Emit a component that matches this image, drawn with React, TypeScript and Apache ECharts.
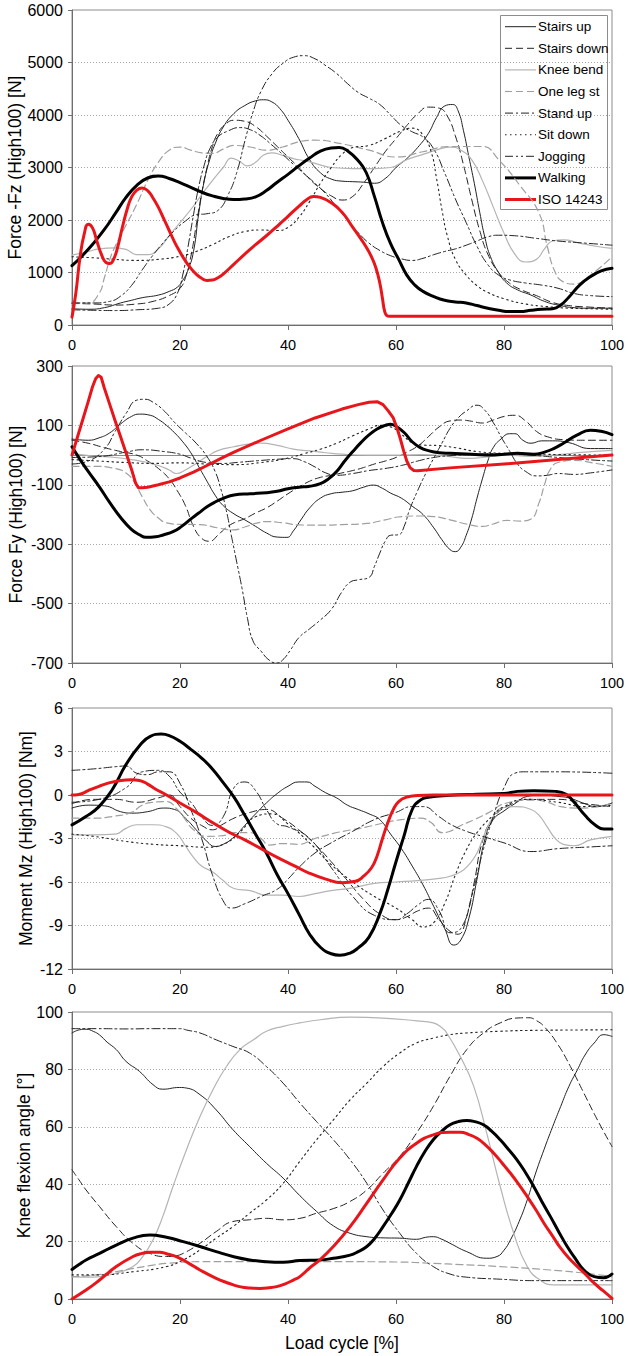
import React, { useEffect, useRef } from "react";
import * as echarts from "echarts";

// ---------- categories / labels ----------
const seriesNames = ["Stairs up", "Stairs down", "Knee bend", "One leg st", "Stand up", "Sit down", "Jogging", "Walking", "ISO 14243"];
const yTitles = ["Force -Fz (High100) [N]", "Force Fy (High100) [N]", "Moment Mz (High100) [Nm]", "Knee flexion angle [°]"];
const xTitle = "Load cycle [%]";
const yMins = [0, -700, -12, 0];
const yMaxs = [6000, 300, 6, 100];
const yIntervals = [1000, 200, 3, 20];

// ---------- Panel 1: Force -Fz ----------
const fzStairsUp = [[0,310],[3,300],[6,330],[9,420],[11,470],[13,520],[16,570],[18,640],[19.5,720],[20.5,850],[21.5,1050],[22.5,1400],[23.5,2150],[24.5,2750],[25.5,3150],[26.5,3450],[28,3770],[30,4030],[32,4180],[34,4270],[35.5,4290],[37,4250],[38.5,4120],[40,3900],[42,3550],[44,3150],[46,2900],[48,2780],[50,2740],[52,2730],[54,2720],[56,2700],[58,2790],[60,3000],[62,3170],[64,3380],[66,3650],[67.5,3950],[69,4170],[70.5,4200],[71.5,4080],[72.5,3700],[73.5,3200],[74.5,2700],[75.5,2150],[76.5,1650],[77.5,1300],[79,1000],[80.5,800],[82.5,670],[85,570],[87.5,450],[90,380],[93,330],[96,320],[100,320]];
const fzStairsDown = [[0,410],[4,400],[8,380],[12,400],[15,450],[18,560],[20,700],[21,900],[22,1300],[23,1900],[24,2500],[25,3000],[26,3400],[27,3650],[28.5,3830],[30,3900],[32,3880],[34,3780],[36,3600],[38,3400],[40,3200],[42,3000],[44,2780],[46,2600],[48,2460],[50,2380],[52,2450],[54,2700],[56,3000],[58,3300],[60,3550],[62,3800],[64,4020],[66,4150],[68,4130],[69.5,3980],[71,3600],[72.5,3050],[74,2400],[75.5,1800],[77,1350],[79,1000],[81,800],[83,680],[86,560],[89,430],[92,370],[96,340],[100,320]];
const fzKneeBend = [[0,1330],[3,1400],[5,1450],[8,1470],[10,1440],[12,1340],[14,1340],[16,1450],[18,1700],[20,1950],[22,2200],[24,2480],[26,2750],[28,3000],[29.5,3180],[31,3120],[32.5,3030],[34,3100],[35.5,3240],[37,3280],[39,3230],[41,3170],[43,3130],[45,3080],[48,3000],[52,2980],[56,2980],[59,3000],[62,3150],[65,3250],[68,3350],[70,3390],[72,3330],[74,3150],[76,2750],[78,2250],[80,1750],[82,1350],[84,1200],[86,1250],[87.5,1450],[89,1600],[91,1620],[94,1560],[97,1500],[100,1460]];
const fzOneLeg = [[0,420],[3,420],[5,600],[6,900],[7,1250],[8,1500],[10,1900],[12,2300],[14,2750],[16,3100],[18,3330],[20,3390],[22,3330],[24,3280],[26,3270],[28,3350],[30,3420],[33,3390],[36,3330],[39,3390],[42,3490],[45,3520],[50,3450],[55,3330],[60,3200],[65,3300],[70,3400],[76,3400],[79,3150],[83,2650],[86.5,2130],[88,1500],[89.5,1000],[91,820],[93,780],[96,950],[100,1300]];
const fzStandUp = [[0,290],[4,280],[8,275],[12,290],[16,320],[18,400],[19.5,600],[20.5,950],[21.5,1500],[22.5,2100],[23.5,2650],[24.5,3050],[25.5,3350],[27,3580],[29,3700],[31,3760],[33,3720],[35,3600],[37,3430],[39,3250],[41,3060],[43,2880],[45,2700],[47,2500],[49,2250],[51,2000],[53,1760],[55,1560],[57,1420],[59,1320],[61,1260],[63,1230],[65,1270],[67,1340],[69,1400],[71,1450],[73,1520],[75,1600],[77,1680],[79,1710],[82,1700],[86,1650],[90,1600],[95,1560],[100,1520]];
const fzSitDown = [[0,1300],[4,1280],[8,1250],[12,1230],[16,1250],[20,1310],[23,1400],[26,1530],[29,1680],[32,1780],[35,1810],[38,1800],[40,1860],[42,2050],[44,2350],[46,2700],[48,3000],[50,3250],[52,3380],[55,3420],[58,3550],[61,3700],[63,3750],[65,3620],[66.5,3300],[67.5,2800],[68.5,2200],[69.5,1700],[71,1250],[73,950],[75,750],[77,620],[80,500],[84,400],[88,350],[92,320],[96,310],[100,300]];
const fzJogging = [[0,420],[4,420],[7,450],[9,550],[11,750],[13,1050],[15,1330],[17,1580],[19,1800],[21,1980],[23,2100],[25,2120],[27,2180],[29,2500],[30.5,2900],[32,3500],[33.5,4050],[35,4450],[37,4780],[39,4980],[41,5100],[43,5130],[45,5070],[47,4940],[49,4790],[51,4600],[53,4430],[55,4320],[57,4200],[59,4000],[61,3800],[63,3680],[65,3580],[67,3350],[69,2900],[71,2400],[73,1950],[75,1500],[77,1150],[79,950],[81,860],[84,800],[87,760],[90,700],[93,600],[96,560],[100,540]];
const fzWalking = [[0,1130],[2,1330],[4,1560],[6,1820],[8,2120],[10,2430],[12,2660],[14,2800],[16,2840],[18,2790],[20,2710],[22,2620],[24,2530],[26,2460],[28,2410],[30,2390],[32,2400],[34,2440],[36,2560],[38,2720],[40,2870],[42,3030],[44,3180],[46,3310],[48,3370],[49.5,3380],[51,3320],[53,3130],[54.5,2900],[56,2450],[57.5,1950],[59,1550],[60.5,1250],[62,950],[63.5,760],[65,640],[67,540],[69,470],[71,440],[73,420],[75,370],[77,320],[79,280],[81,255],[83,255],[85,280],[87,300],[89,310],[90.5,380],[92,530],[94,760],[96,920],[98,1030],[100,1080]];
const fzISO = [[0,150],[0.7,600],[1.5,1300],[2.3,1750],[3,1920],[3.8,1850],[4.6,1600],[5.5,1330],[6.3,1190],[7,1170],[7.7,1250],[8.5,1500],[9.3,1850],[10.2,2200],[11,2430],[12,2570],[13,2610],[14,2560],[15,2420],[16,2240],[17,2020],[18,1800],[19,1580],[20,1390],[21,1220],[22,1080],[23,970],[24,890],[25,850],[26,855],[27,900],[28,970],[30,1160],[32,1350],[34,1530],[36,1700],[38,1880],[40,2070],[42,2260],[43.5,2390],[44.7,2450],[46,2430],[48,2330],[50,2150],[52,1860],[53.5,1640],[54.5,1480],[55.5,1290],[56.3,1080],[57,800],[57.5,500],[57.9,260],[58.3,180],[58.8,165],[60,165],[100,165]];

// ---------- Panel 2: Force Fy ----------
const fyStairsUp = [[0,54],[3,50],[5,58],[7,75],[9,105],[11,130],[12.5,138],[14.5,134],[16,120],[17.5,100],[19,75],[20.5,45],[22,8],[23.5,-40],[25,-88],[26.5,-135],[28,-170],[30,-198],[32,-218],[34,-240],[36,-262],[38,-276],[39.8,-277],[41,-255],[42.5,-215],[44,-178],[46,-145],[48,-130],[50,-125],[52,-120],[54,-108],[55.8,-101],[57.5,-112],[59,-128],[61,-145],[63,-172],[65,-200],[67,-245],[68.5,-285],[70,-318],[71,-325],[72,-310],[73,-270],[74,-215],[75,-145],[76,-80],[77,-20],[78,25],[79.5,55],[81,72],[82,72],[83.5,50],[85,40],[87,48],[89,48],[92,42],[96,22],[100,22]];
const fyStairsDown = [[0,50],[3,40],[6,25],[9,12],[12,0],[14,-20],[16,-45],[18,-80],[19.5,-120],[21,-170],[22.5,-240],[24,-280],[25.5,-290],[27,-270],[28.5,-245],[30,-228],[32,-214],[34,-195],[36,-178],[38,-155],[40,-130],[42,-108],[44,-88],[46,-75],[48,-68],[50,-60],[52,-52],[54,-42],[56,-30],[58,-20],[60,-8],[62,10],[64,30],[66,62],[68,95],[70,115],[72,118],[74,114],[76,108],[78,118],[80,130],[82,134],[84,115],[86,80],[88,62],[91,52],[95,50],[100,50]];
const fyKneeBend = [[0,5],[4,-3],[8,-8],[11,-15],[14,-25],[16,-35],[18,-50],[19.3,-62],[21,-50],[23,-28],[25,-5],[27,15],[30,28],[33,38],[35,40],[38,33],[41,20],[44,14],[47,8],[50,3],[55,0],[60,0],[65,2],[70,-5],[73,-11],[76,-8],[80,0],[85,-4],[90,2],[95,10],[100,16]];
const fyOneLeg = [[0,-38],[4,-38],[8,-45],[10,-60],[11.5,-90],[13,-140],[14.5,-185],[16,-212],[17.5,-228],[20,-233],[23.7,-234],[27,-245],[29.8,-252],[32,-242],[34,-230],[36,-224],[39,-228],[42,-235],[46,-236],[50,-234],[54.6,-230],[58,-218],[61,-207],[64,-205],[67,-207],[70,-218],[73,-232],[76,-240],[78,-232],[80.5,-220],[83,-222],[85,-215],[86.5,-160],[87.5,-100],[88.5,-50],[90,-25],[93,-18],[97,-28],[100,-38]];
const fyStandUp = [[0,-8],[5,-5],[10,10],[13,18],[17,12],[20,3],[22,-10],[25,-25],[28,-28],[31,-24],[35,-18],[38,-14],[41,-12],[43,-22],[45,-40],[47,-60],[49,-68],[52,-62],[55,-52],[58,-45],[61,-35],[64,-20],[67,-8],[70,-2],[75,3],[80,5],[85,0],[90,-8],[95,-15],[100,-20]];
const fySitDown = [[0,-15],[5,-20],[10,-25],[15,-28],[20,-26],[25,-30],[30,-32],[35,-25],[40,-10],[43,5],[46,20],[49,40],[52,65],[55,88],[57,100],[59,95],[61,70],[63,42],[65,34],[68,32],[71,25],[75,12],[80,6],[90,2],[100,0]];
const fyJogging = [[0,-30],[3,-20],[6,20],[8,80],[10,140],[12,185],[13.5,188],[15,178],[17,150],[19,110],[21,75],[23,40],[25,-5],[26.5,-55],[27.5,-110],[28.5,-180],[29.5,-270],[30.5,-360],[31.5,-450],[32.5,-550],[33.5,-625],[35,-660],[36.5,-690],[37.9,-700],[39,-690],[40.5,-655],[42,-615],[44,-585],[46,-555],[48,-520],[50,-460],[51.5,-428],[53,-420],[55,-412],[56,-375],[57,-330],[58,-290],[59,-270],[60.5,-268],[61.5,-240],[62.5,-185],[64,-120],[65.5,-62],[67,-10],[68.5,40],[70,90],[71.5,125],[73,148],[75,168],[76.5,150],[78,110],[79.5,60],[81,15],[82.5,-30],[84,-55],[86,-70],[88,-68],[90,-62],[93,-65],[96,-60],[100,-50]];
const fyWalking = [[0,28],[1.5,-15],[3,-55],[5,-105],[7,-160],[9,-210],[11,-250],[12.5,-268],[13.7,-277],[15.5,-275],[17,-268],[18.7,-258],[20.3,-240],[21.8,-218],[23.4,-196],[25,-174],[26.5,-158],[28,-146],[30,-134],[33,-130],[36,-127],[38,-122],[40,-113],[42,-108],[44,-105],[46,-96],[47.5,-80],[49,-55],[50.5,-20],[52,12],[53.5,42],[55,68],[56.5,88],[58,100],[59,104],[60,97],[61.5,76],[63,45],[64.5,25],[66,15],[68,8],[70,6],[74,3],[77.5,0],[80,3],[82.5,6],[85.5,3],[87.5,10],[89.2,22],[91,40],[93.5,67],[96,84],[98,80],[100,69]];
const fyISO = [[0,0],[1,60],[2,120],[3,180],[3.8,230],[4.4,258],[4.9,268],[5.4,262],[6,225],[7,170],[8,115],[9,62],[10,8],[11,-47],[11.8,-95],[12.3,-110],[13,-110],[14,-108],[16,-100],[18,-90],[20,-77],[22.5,-57],[25,-35],[27.5,-12],[30,10],[35,50],[40,88],[45,125],[50,155],[53,170],[55,178],[56.5,180],[57.6,170],[58.6,148],[59.5,125],[60.2,90],[60.8,55],[61.4,15],[62,-20],[62.6,-42],[63.3,-52],[64,-53],[70,-43],[80,-30],[90,-15],[100,0]];

// ---------- Panel 3: Moment Mz ----------
const mzStairsUp = [[0,-0.9],[3,-0.7],[6,-0.75],[9,-1.15],[11,-1.25],[14,-1.15],[17,-0.9],[19,-1.0],[21,-1.6],[23,-2.4],[25,-3.2],[26.5,-3.55],[28,-3.4],[30,-2.9],[32,-2.1],[34,-1.3],[36,-0.55],[38,0.1],[40,0.6],[42,0.9],[43.5,0.9],[45,0.6],[47,0.15],[49,-0.2],[51,-0.7],[53,-1.0],[55,-1.3],[57,-1.7],[59,-2.7],[61,-3.7],[63,-4.9],[65,-6.2],[67,-7.7],[69,-9.2],[70.7,-10.35],[72,-10.0],[73.5,-8.5],[75,-5.8],[76.5,-3.0],[78,-1.7],[80,-1.1],[82,-0.6],[84.3,-0.1],[87,0],[90,-0.1],[92,-0.2],[95,-0.6],[97,-0.8],[100,-0.55]];
const mzStairsDown = [[0,-0.6],[4,-0.3],[8,-0.3],[12,-0.5],[16,-0.2],[18,0],[20,-0.8],[22,-1.6],[24,-2.1],[26,-2.4],[28,-2.0],[30,-1.6],[33,-1.2],[36,-1.0],[39,-1.6],[42,-2.4],[45,-3.4],[48,-4.6],[51,-5.9],[54,-7.2],[57,-8.2],[60,-8.6],[62,-8.4],[64,-8.0],[66,-7.8],[68,-8.6],[70,-9.4],[71.5,-9.6],[73,-8.5],[74.5,-6],[76,-3.2],[78,-1.6],[81,-0.7],[85,-0.3],[90,-0.3],[95,-0.6],[100,-0.8]];
const mzKneeBend = [[0,-2.75],[4,-2.75],[8,-2.7],[10,-2.3],[12,-2.05],[15,-2.05],[17.5,-2.2],[19.5,-2.7],[21,-3.5],[22.5,-4.3],[24,-4.9],[26,-5.3],[28,-5.9],[30,-6.45],[33,-6.6],[36,-6.9],[39,-6.9],[42,-7.0],[45,-6.8],[48,-6.6],[52,-6.4],[56,-6.1],[60,-6.0],[64,-5.9],[68,-5.75],[70,-5.6],[72,-5.3],[73.5,-4.8],[75,-4.0],[76.5,-2.6],[78,-1.5],[79.5,-0.9],[82,-0.8],[85,-1.0],[86.5,-1.4],[88,-2.2],[89.5,-3.0],[91,-3.4],[93,-3.5],[96,-3.1],[100,-2.85]];
const mzOneLeg = [[0,-1.6],[4,-1.6],[8,-1.45],[11,-1.2],[13,-0.7],[15,-0.5],[17.5,-0.45],[19.5,-1.0],[21,-1.7],[22.5,-2.4],[25,-2.85],[28,-2.8],[30,-2.6],[33,-2.6],[35,-3.0],[36.5,-3.45],[39,-3.35],[42,-3.4],[45,-3.0],[48.4,-2.65],[51,-2.45],[54.6,-2.2],[58,-1.9],[61,-1.7],[64.5,-1.6],[66.5,-1.9],[68.5,-2.6],[70,-2.5],[72,-2.1],[74.5,-1.7],[77,-1.25],[80.5,-0.55],[85.5,-0.35],[88,-0.5],[90.5,-0.8],[93.5,-0.9],[97.5,-0.8],[100,-0.55]];
const mzStandUp = [[0,1.7],[4,1.8],[8,1.95],[10,2.0],[12,1.5],[14,1.4],[16,1.6],[18,1.6],[20,0.8],[22,-1],[24,-3],[26,-5.5],[28,-7.3],[29.5,-7.8],[32,-7.5],[35,-7.0],[38,-6.5],[40,-5.8],[42,-5],[45,-4.0],[48,-3.3],[52,-2.5],[56,-1.7],[60,-1.2],[63,-0.8],[65,-0.8],[68,-1.5],[70,-2.0],[73,-2.5],[76,-2.85],[80,-3.3],[85,-3.9],[90,-3.7],[95,-3.6],[100,-3.5]];
const mzSitDown = [[0,-2.7],[5,-2.9],[10,-3.2],[15,-3.4],[20,-3.5],[25,-3.6],[28,-3.4],[31,-2.6],[34,-1.5],[37,-1.3],[40,-2.0],[44,-3.3],[48,-4.8],[52,-6.0],[56,-7.0],[60,-7.8],[63,-8.6],[65,-9.1],[67,-8.8],[69,-7.5],[71,-5.5],[73,-3.8],[75,-2.6],[78,-1.4],[80,-0.8],[84,-0.3],[90,-0.5],[95,-0.8],[100,-0.7]];
const mzJogging = [[0,-0.5],[5,-0.3],[10,0.5],[13,1.6],[16,1.7],[18,1.3],[20,0.2],[22,-0.5],[24,-1.5],[26,-2.1],[28,-1.5],[30,0.5],[32,0.9],[34,0.3],[36,-1],[38,-2],[40,-2.2],[44,-3],[48,-5],[52,-7],[56,-8.3],[60,-8.6],[62,-8.2],[64,-7.6],[66,-7.2],[68,-8],[70,-9.5],[72,-9.2],[74,-7],[76,-4],[78,-1.5],[80,0.5],[82,1.5],[84,1.6],[90,1.6],[100,1.5]];
const mzWalking = [[0,-2.06],[2.5,-1.5],[5,-0.8],[7.5,0.4],[10,2.1],[12.5,3.4],[14.5,4.05],[16.5,4.2],[18,4.1],[20,3.7],[22,3.15],[24,2.55],[26,1.8],[28,0.85],[30,-0.15],[32,-1.4],[34,-2.7],[36,-4.0],[38,-5.5],[40,-6.8],[42,-8.2],[44,-9.6],[46,-10.5],[48,-10.95],[49.6,-11.05],[51.5,-10.9],[53,-10.55],[55,-9.8],[57,-8.2],[58.5,-6.5],[60,-4.6],[61.5,-2.8],[63,-1.0],[64.5,-0.35],[66,-0.15],[70,-0.02],[75,0.05],[80,0.1],[82.5,0.25],[85.5,0.3],[89.5,0.25],[91.5,0.05],[93,-0.5],[95,-1.4],[97,-2.1],[98.5,-2.35],[100,-2.35]];
const mzISO = [[0,0],[1,0.02],[2,0.12],[3,0.3],[5,0.6],[7,0.85],[9,1.0],[11,1.05],[12.5,1.0],[14,0.75],[15.5,0.4],[17.5,0],[20,-0.55],[23,-1.2],[26,-1.9],[29,-2.55],[32,-3.1],[35,-3.7],[38,-4.3],[41,-4.85],[44,-5.4],[47,-5.8],[50,-6.05],[52.5,-5.95],[54,-5.6],[55.5,-5.0],[56.5,-4.2],[57.5,-3.0],[58.5,-1.9],[59.5,-1.0],[60.5,-0.45],[62,-0.15],[64,-0.04],[67,0],[100,0]];

// ---------- Panel 4: Knee flexion angle ----------
const kaStairsUp = [[0,92.7],[1.4,93.8],[2.6,94],[4,93.2],[5.1,92],[6.5,89.5],[8.2,86.9],[10,82.8],[12.5,79.3],[15,74.7],[16.8,73.1],[19.9,73.7],[21.2,73.5],[23.7,71.2],[26.7,65.9],[29.8,59],[32.9,53.1],[36,47.3],[39.1,42.1],[42.2,36],[45.3,30.5],[48.4,25.5],[51.5,22.9],[54.6,21.7],[57.6,21.3],[60.7,21.2],[63.8,20.8],[65.5,21.5],[66.9,21.7],[68.5,20.8],[70,19.4],[73.1,16.5],[76.8,14.2],[78.7,14.8],[80,17],[81.2,20.6],[82.8,27],[84.3,34.5],[85.8,43.5],[87.4,52],[89,60],[90.5,67.1],[92,74],[93.6,79.9],[95,85],[96.7,89.2],[98.5,92.1],[100,91.5]];
const kaStairsDown = [[0,45],[1.3,41.5],[2.6,38],[5.1,32.2],[8.2,25.2],[11.3,19.4],[14.4,15.9],[17.5,14.8],[19,15],[20.6,15.9],[23.7,19.4],[26.7,23.5],[29.8,27],[32.9,27.6],[36,28.1],[39.1,27.6],[42.2,28.1],[45.3,29.9],[48.4,31.5],[51.5,34],[54.6,38],[57.6,43.8],[60.7,49.7],[63.8,57.8],[66.9,67.1],[70,77.6],[73.1,86.9],[76.2,92.7],[79.3,96.2],[82.4,97.9],[84.6,98],[86,97],[87.4,95],[89.8,89.2],[92.3,81],[94.8,71.7],[97.3,62.4],[100,53.1]];
const kaKneeBend = [[0,7.8],[3,7.6],[5.1,7.8],[8.2,9],[11.3,11.3],[13.1,14.8],[15,20.6],[16.8,28.7],[18.7,39.2],[21.2,52],[23.7,63.6],[26.1,72.9],[28.6,81],[31.1,86.9],[33.6,90.3],[36,93.3],[39.1,95],[42.2,96.2],[46,97.3],[51.5,98.2],[57.6,97.9],[63.8,96.9],[66.9,96.2],[68.5,94.5],[69.4,92.7],[71.9,84.5],[74.4,74.1],[76.8,57.8],[79.3,39.2],[81.8,22.9],[84.3,11.3],[86.7,6.6],[89.2,4.9],[100,4.9]];
const kaOneLeg = [[0,7.8],[5,8.5],[10,10.2],[15,11.8],[18,12.5],[23.7,13],[30,13],[42,13],[50,13],[60,12.9],[66.9,12.4],[72,12],[79.3,11.3],[88.6,10.1],[95,9],[100,7.8]];
const kaStandUp = [[0,94.2],[5,94.2],[10,94.1],[15,94.2],[19.9,94.2],[21.5,93.6],[23.7,92.7],[26.7,90.3],[29.8,88],[32.9,85.7],[36,81],[39.1,75.2],[42.2,68.3],[45.3,61.8],[48.4,55.5],[51.5,48.5],[54.6,40.3],[57.6,31],[60.7,22.9],[63.8,15.9],[66.9,11.3],[70,8.7],[73.1,7.6],[79.3,6.9],[85.5,6.4],[100,6.4]];
const kaSitDown = [[0,8.4],[5,8.4],[11.3,9.5],[17.5,11.3],[20.6,13.6],[23.7,17.1],[26.7,21.2],[29.8,25.2],[32.9,29.9],[36,34.5],[39.1,40.3],[42.2,48],[45.3,55.5],[48.4,62.4],[51.5,69.4],[54.6,75.2],[57.6,81],[60.7,85.7],[63.8,89.2],[66.9,90.9],[70,92.1],[73.1,92.7],[79.3,93.3],[85.5,93.6],[100,93.8]];
const kaWalking = [[0,10.3],[1.3,12],[2.6,13.6],[5.1,15.9],[8.2,18.8],[11.3,21.2],[14.4,22.3],[17.5,21.5],[20.6,20],[23.7,18.3],[26.7,16.5],[29.8,14.8],[32.9,13.6],[36,13],[39.1,12.8],[42.2,13.4],[45.9,13.6],[48.4,14.2],[51.5,15.3],[53,16.5],[54.6,18.3],[56,21],[57.6,25.2],[59.2,29.8],[60.7,34.5],[62.3,40.5],[63.8,46.2],[65.3,51.2],[66.9,55.5],[68.5,58.5],[70,60.7],[71.5,61.8],[73.1,62.2],[74.6,61.8],[76.2,60.7],[77.7,58.5],[79.3,55.5],[80.8,52.2],[82.4,48.5],[84,44],[85.5,39.2],[87,34],[88.6,28.7],[90.2,23.2],[91.7,18.3],[93.3,13.8],[94.8,10.1],[96.7,7.8],[98.5,7.4],[100,8.7]];
const kaISO = [[0,0],[2.6,3.1],[5.1,6.6],[8.2,11.3],[11.3,14.8],[13,15.9],[14.4,16.3],[16.2,16.3],[17.8,15.6],[19.3,14.8],[21.5,12.6],[23.7,10.1],[26.7,7.2],[29,5.5],[31,4.3],[33,3.8],[34.8,3.7],[36.5,3.9],[37.9,4.3],[39.5,5.3],[41,6.6],[42.2,7.8],[44,10.8],[45.9,13.6],[48.4,18.3],[51.5,25.2],[54.6,33.4],[57.6,41.5],[60.7,49.1],[63.8,54.3],[66.9,57.2],[70,58.1],[71.9,58.1],[73.5,57.3],[75,56],[76.5,53.8],[78.1,50.8],[79.6,47.5],[81.2,43.8],[82.8,39.8],[84.3,35.7],[85.9,31.1],[87.4,26.4],[89,21.9],[90.5,17.7],[92,14.3],[93.6,11.3],[95.2,8.4],[96.7,5.5],[98.4,2.8],[100,0.2]];

const panelData: (number[][] | null)[][] = [
  [fzStairsUp, fzStairsDown, fzKneeBend, fzOneLeg, fzStandUp, fzSitDown, fzJogging, fzWalking, fzISO],
  [fyStairsUp, fyStairsDown, fyKneeBend, fyOneLeg, fyStandUp, fySitDown, fyJogging, fyWalking, fyISO],
  [mzStairsUp, mzStairsDown, mzKneeBend, mzOneLeg, mzStandUp, mzSitDown, mzJogging, mzWalking, mzISO],
  [kaStairsUp, kaStairsDown, kaKneeBend, kaOneLeg, kaStandUp, kaSitDown, null, kaWalking, kaISO],
];

// ---------- styles ----------
const lineStyles: any[] = [
  { color: "#222", width: 1, type: "solid" },
  { color: "#222", width: 1, type: [7, 4] },
  { color: "#b4b4b4", width: 1.2, type: "solid" },
  { color: "#a0a0a0", width: 1.2, type: [7, 4] },
  { color: "#222", width: 1, type: [8, 3, 2, 3] },
  { color: "#222", width: 1.1, type: [1.5, 3.5] },
  { color: "#222", width: 1, type: [8, 3, 2, 3, 2, 3] },
  { color: "#000", width: 3, type: "solid" },
  { color: "#e8161b", width: 3, type: "solid" },
];

const FONT = "'Liberation Sans', Arial, sans-serif";
const grids = [
  { left: 72, top: 10, width: 540, height: 315 },
  { left: 72, top: 366, width: 540, height: 297 },
  { left: 72, top: 708, width: 540, height: 261 },
  { left: 72, top: 1012, width: 540, height: 287 },
];
const titleX = [15, 16, 25.5, 24];

export default function App() {
  const ref = useRef<HTMLDivElement>(null);
  useEffect(() => {
    if (!ref.current) return;
    const chart = echarts.init(ref.current, null, { renderer: "svg" });
    const series: any[] = [];
    panelData.forEach((arr, p) => {
      arr.forEach((d, i) => {
        if (!d) return;
        const ls = lineStyles[i];
        const s: any = {
          type: "line",
          name: seriesNames[i],
          xAxisIndex: p,
          yAxisIndex: p,
          data: d,
          symbol: "none",
          showSymbol: false,
          smooth: p === 1 && i === 8 ? false : 0.5,
          lineStyle: { color: ls.color, width: ls.width, type: ls.type, cap: "round", join: "round" },
          z: i >= 7 ? 3 + i : 2,
          silent: true,
        };
        if (i === 0 && (p === 1 || p === 2)) {
          s.markLine = {
            silent: true,
            symbol: "none",
            label: { show: false },
            lineStyle: { color: "#8a8a8a", type: "solid", width: 1 },
            data: [{ yAxis: 0 }],
            z: 1,
          };
        }
        series.push(s);
      });
    });

    const graphics: any[] = [];
    yTitles.forEach((t, p) => {
      const g = grids[p];
      graphics.push({
        type: "text",
        x: titleX[p],
        y: g.top + g.height / 2,
        rotation: Math.PI / 2,
        style: { text: t, font: `17.5px ${FONT}`, fill: "#000", textAlign: "center", textVerticalAlign: "middle" },
      });
    });
    graphics.push({
      type: "text",
      x: 342,
      y: 1343,
      style: { text: xTitle, font: `17.5px ${FONT}`, fill: "#000", textAlign: "center", textVerticalAlign: "middle" },
    });
    const legendChildren: any[] = [
      { type: "rect", shape: { x: 500.5, y: 15.5, width: 107, height: 194 }, style: { fill: "#fff", stroke: "#8c8c8c", lineWidth: 1 } },
    ];
    seriesNames.forEach((n, i) => {
      const y = 26.7 + 21.6 * i;
      const ls = lineStyles[i];
      legendChildren.push({
        type: "line",
        shape: { x1: 505, y1: y, x2: 536, y2: y },
        style: { stroke: ls.color, lineWidth: ls.width, lineDash: Array.isArray(ls.type) ? ls.type : null },
      });
      legendChildren.push({
        type: "text",
        x: 538,
        y: y,
        style: { text: n, font: `13.5px ${FONT}`, fill: "#000", textAlign: "left", textVerticalAlign: "middle" },
      });
    });
    graphics.push({ type: "group", z: 50, children: legendChildren });

    chart.setOption({
      animation: false,
      backgroundColor: "#fff",
      grid: grids.map((g) => ({ ...g, show: true, borderColor: "#8c8c8c", borderWidth: 1, backgroundColor: "transparent" })),
      xAxis: grids.map((_, p) => ({
        type: "value",
        gridIndex: p,
        min: 0,
        max: 100,
        interval: 20,
        axisLine: { show: true, onZero: false, lineStyle: { color: "#6e6e6e", width: 1 } },
        axisTick: { show: true, inside: false, length: 5, lineStyle: { color: "#6e6e6e" } },
        axisLabel: { show: true, margin: 12, fontSize: 14.5, color: "#000", fontFamily: FONT, formatter: (v: number) => String(v) },
        splitLine: { show: false },
      })),
      yAxis: grids.map((_, p) => ({
        type: "value",
        gridIndex: p,
        min: yMins[p],
        max: yMaxs[p],
        interval: yIntervals[p],
        axisLine: { show: true, onZero: false, lineStyle: { color: "#6e6e6e", width: 1 } },
        axisTick: { show: true, inside: false, length: 4, lineStyle: { color: "#6e6e6e" } },
        axisLabel: { show: true, margin: 9, fontSize: 16, color: "#000", fontFamily: FONT, formatter: (v: number) => String(v) },
        splitLine: { show: true, showMinLine: false, showMaxLine: false, lineStyle: { color: "#a8a8a8", type: [1, 2], width: 1 } },
      })),
      series,
      graphic: graphics,
    });
    return () => chart.dispose();
  }, []);
  return <div ref={ref} style={{ position: "absolute", left: 0, top: 0, width: 629, height: 1356, background: "#fff" }} />;
}
